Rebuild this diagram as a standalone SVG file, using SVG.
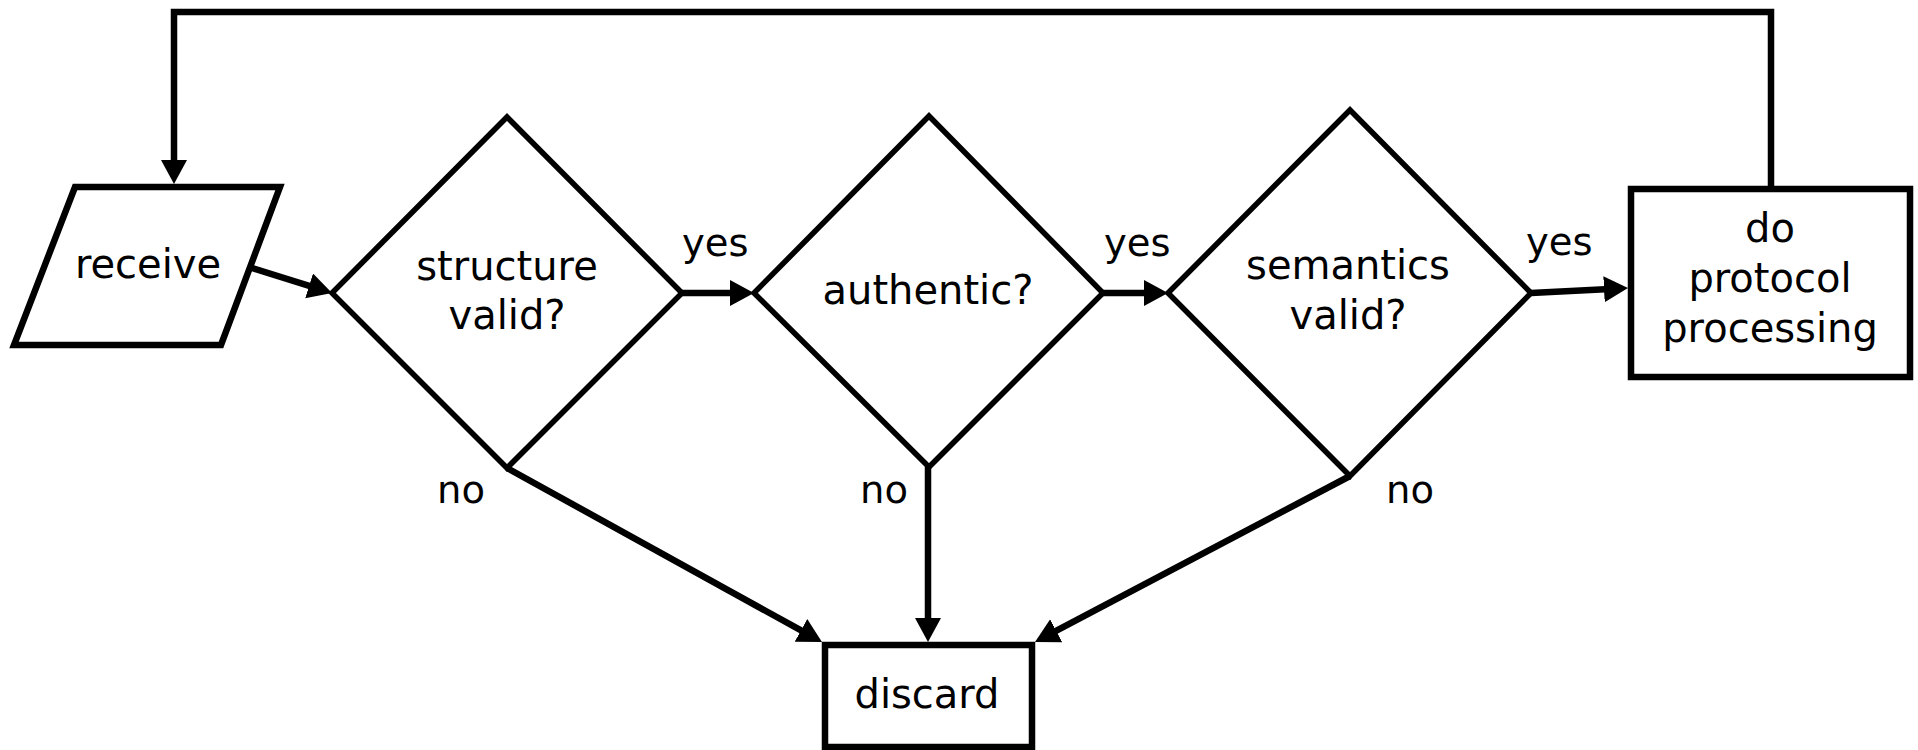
<svg xmlns="http://www.w3.org/2000/svg" width="1918" height="750" viewBox="0 0 1918 750">
<style>
.shape{fill:#fff;stroke:#000;stroke-linejoin:miter}
.dia{stroke-width:5.5}
.box{stroke-width:6.5}
.con{fill:none;stroke:#000;stroke-width:6.5}
text{font-family:"DejaVu Sans","Liberation Sans",sans-serif;font-size:40px;fill:#000}
.lbl{font-size:38.5px}
.c{text-anchor:middle}
</style>
<defs>
<marker id="ah" markerUnits="userSpaceOnUse" markerWidth="26" markerHeight="28" refX="11" refY="13" orient="auto">
<path d="M0,0 L24,13 L0,26 Z" fill="#000"/>
</marker>
</defs>
<g id="receive">
<polygon class="shape box" points="75,187 280,187 221,345 14,345"/>
<text class="c" x="148" y="278">receive</text>
</g>
<g id="structure">
<polygon class="shape dia" points="507,117 682,293 507,468 332,293"/>
<text class="c" x="507" y="280">structure</text>
<text class="c" x="507" y="329">valid?</text>
</g>
<g id="authentic">
<polygon class="shape dia" points="929,116 1103,293 929,467 754,293"/>
<text class="c" x="928" y="304">authentic?</text>
</g>
<g id="semantics">
<polygon class="shape dia" points="1350,110 1531,293 1350,476 1168,293"/>
<text class="c" x="1348" y="279">semantics</text>
<text class="c" x="1348" y="329">valid?</text>
</g>
<g id="process">
<rect class="shape box" x="1631" y="189" width="279" height="188"/>
<text class="c" x="1770" y="242">do</text>
<text class="c" x="1770" y="292">protocol</text>
<text class="c" x="1770" y="342">processing</text>
</g>
<g id="discard">
<rect class="shape box" x="825" y="645" width="207" height="102"/>
<text class="c" x="927" y="708">discard</text>
</g>
<g id="connectors">
<line class="con" x1="252" y1="268" x2="319.6" y2="289.1" marker-end="url(#ah)"/>
<line class="con" x1="682" y1="293" x2="741" y2="293" marker-end="url(#ah)"/>
<line class="con" x1="1103" y1="293" x2="1155" y2="293" marker-end="url(#ah)"/>
<line class="con" x1="1531" y1="293" x2="1615" y2="288.7" marker-end="url(#ah)"/>
<line class="con" x1="507" y1="468" x2="810.6" y2="635.7" marker-end="url(#ah)"/>
<line class="con" x1="928" y1="467" x2="928" y2="629" marker-end="url(#ah)"/>
<line class="con" x1="1350" y1="476" x2="1046.5" y2="635.9" marker-end="url(#ah)"/>
<polyline class="con" points="1771,186 1771,12 174,12 174,171" marker-end="url(#ah)"/>
<text class="lbl" x="682" y="256">yes</text>
<text class="lbl" x="1104" y="256">yes</text>
<text class="lbl" x="1526" y="255">yes</text>
<text class="lbl" x="437" y="503">no</text>
<text class="lbl" x="860" y="503">no</text>
<text class="lbl" x="1386" y="503">no</text>
</g>
</svg>
